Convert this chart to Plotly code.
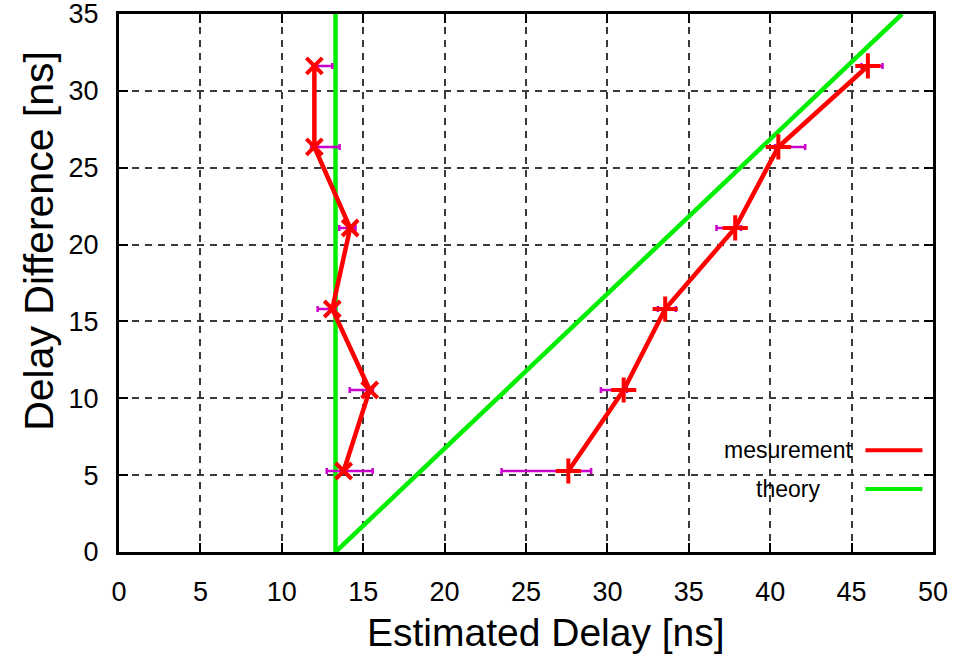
import plotly.graph_objects as go

# ---- data ----
delay_diff = [5.27, 10.54, 15.81, 21.08, 26.35, 31.62]

meas_left = [13.8, 15.4, 13.1, 14.2, 12.0, 12.0]
left_err_minus = [1.04, 1.23, 0.9, 0.67, 0.2, 0.1]
left_err_plus = [1.78, 0.2, 0.2, 0.33, 1.55, 1.1]

meas_right = [27.6, 31.0, 33.55, 37.85, 40.5, 46.0]
right_err_minus = [4.1, 1.4, 0.45, 1.15, 0.2, 0.4]
right_err_plus = [1.4, 0.2, 0.65, 0.35, 1.65, 0.9]

theory_x = [13.3, 13.3, 48.1]
theory_y = [35, 0, 35]

x_ticks = [0, 5, 10, 15, 20, 25, 30, 35, 40, 45, 50]
y_ticks = [0, 5, 10, 15, 20, 25, 30, 35]

RED = "#ff0000"
GREEN = "#00ee00"
MAG = "#cc00cc"
FONT = "Liberation Sans, Arial, sans-serif"

fig = go.Figure()

# theory
fig.add_trace(go.Scatter(x=theory_x, y=theory_y, mode="lines",
                         line=dict(color=GREEN, width=4.5), name="theory",
                         showlegend=False))

# error bars (drawn beneath measurement lines)
for xs, em, ep in [(meas_left, left_err_minus, left_err_plus),
                   (meas_right, right_err_minus, right_err_plus)]:
    fig.add_trace(go.Scatter(
        x=xs, y=delay_diff, mode="markers",
        marker=dict(size=1, color="rgba(0,0,0,0)"),
        error_x=dict(type="data", symmetric=False, array=ep, arrayminus=em,
                     color=MAG, thickness=2.5, width=3),
        showlegend=False, hoverinfo="skip"))

# measurement
fig.add_trace(go.Scatter(x=meas_left, y=delay_diff, mode="lines+markers",
                         line=dict(color=RED, width=4.5),
                         marker=dict(symbol="x-thin", size=16,
                                     line=dict(color=RED, width=4)),
                         name="mesurement", showlegend=False))
fig.add_trace(go.Scatter(x=meas_right, y=delay_diff, mode="lines+markers",
                         line=dict(color=RED, width=4.5),
                         marker=dict(symbol="cross-thin", size=18,
                                     line=dict(color=RED, width=4)),
                         name="mesurement", showlegend=False))

axis_common = dict(
    showline=True, linecolor="black", linewidth=3, mirror="ticks",
    ticks="inside", ticklen=9, tickwidth=2, tickcolor="black",
    showgrid=True, gridcolor="#3a3a3a", gridwidth=2, griddash="7px,6px",
    zeroline=False, tickfont=dict(family=FONT, size=27, color="black"),
    ticklabeloverflow="allow", automargin=False,
)

fig.update_xaxes(range=[0, 50], tickvals=x_ticks, ticktext=[str(t) for t in x_ticks],
                 ticklabelstandoff=14, **axis_common)
fig.update_yaxes(range=[0, 35], tickvals=y_ticks, ticktext=[str(t) for t in y_ticks],
                 ticklabelstandoff=12, **axis_common)

# axis titles (positioned as in the original, slightly off-centre)
fig.add_annotation(x=0.5246, y=-0.1487, xref="paper", yref="paper",
                   text="Estimated Delay [ns]", showarrow=False,
                   xanchor="center", yanchor="middle",
                   font=dict(family=FONT, size=39, color="black"))
fig.add_annotation(x=-0.0985, y=0.578, xref="paper", yref="paper",
                   text="Delay Difference [ns]", showarrow=False, textangle=-90,
                   xanchor="center", yanchor="middle",
                   font=dict(family=FONT, size=41, color="black"))

# legend (text centred, sample line at right, as in the original)
legend_items = [("mesurement", RED), ("theory", GREEN)]
legend_y = [0.189, 0.117]
for (label, col), ly in zip(legend_items, legend_y):
    fig.add_annotation(x=0.822, y=ly, xref="paper", yref="paper", text=label,
                       showarrow=False, xanchor="center", yanchor="middle",
                       font=dict(family=FONT, size=23, color="black"))
    fig.add_shape(type="line", xref="paper", yref="paper",
                  x0=0.917, x1=0.987, y0=ly, y1=ly,
                  line=dict(color=col, width=4))

fig.update_layout(
    width=969, height=657,
    margin=dict(l=119, r=36, t=14, b=105, autoexpand=False),
    plot_bgcolor="white", paper_bgcolor="white",
    showlegend=False,
    font=dict(family=FONT, color="black"),
)

fig.write_html("out.html")
